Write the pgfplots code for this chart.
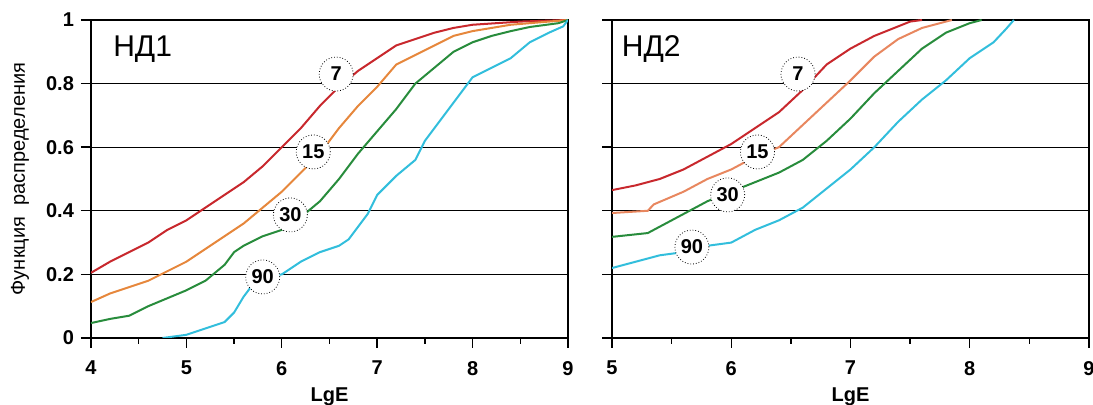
\documentclass[border=0pt]{standalone}
\usepackage{fontspec}
\setmainfont{Liberation Sans}
\usepackage{pgfplots}
\pgfplotsset{compat=1.18}
\definecolor{cred}{RGB}{200,40,45}
\definecolor{corange}{RGB}{230,135,60}
\definecolor{corange2}{RGB}{232,135,95}
\definecolor{cgreen}{RGB}{40,140,60}
\definecolor{ccyan}{RGB}{50,190,220}
\tikzset{lab/.style={circle, draw, densely dotted, fill=white, inner sep=0.5pt, minimum size=17pt, font=\bfseries\fontsize{10}{11}\selectfont}}
\pgfplotsset{
  myaxis/.style={
    scale only axis, width=238.5pt, height=159pt,
    ymin=0, ymax=1, ytick={0,0.2,0.4,0.6,0.8,1},
    ymajorgrids, grid style={black, line width=0.5pt},
    axis line style={line width=0.8pt},
    tick align=outside, major tick length=5pt, minor tick length=3pt,
    tick style={black, line width=0.7pt},
    minor x tick num=1,
    xtick pos=bottom, ytick pos=left,
    /pgf/number format/assume math mode=true,
    ticklabel style={font=\bfseries\fontsize{10}{11}\selectfont},
    xticklabel style={yshift=-3pt},
    xlabel={LgE},
    xlabel style={font=\bfseries\fontsize{10}{11}\selectfont, at={(axis description cs:0.5,-0.185)}, anchor=center},
    every axis plot/.append style={line width=1pt},
  },
}
\begin{document}
\begin{tikzpicture}
\useasboundingbox (-45.5pt,-33.5pt) rectangle (501pt,169pt);
\begin{axis}[myaxis, xmin=4, xmax=9, xtick={4,5,6,7,8,9},
  ylabel={Функция\ \ распределения},
  ylabel style={font=\fontsize{10}{11}\selectfont, at={(axis description cs:-0.149,0.5)}, anchor=center}]
\addplot[cred] coordinates {(4.0,0.205)(4.2,0.24)(4.4,0.27)(4.6,0.30)(4.8,0.34)(5.0,0.37)(5.2,0.41)(5.4,0.45)(5.6,0.49)(5.8,0.54)(6.0,0.60)(6.2,0.66)(6.4,0.73)(6.6,0.79)(6.8,0.84)(7.0,0.88)(7.2,0.92)(7.4,0.94)(7.6,0.96)(7.8,0.975)(8.0,0.985)(8.5,0.995)(9.0,1.0)};
\addplot[corange] coordinates {(4.0,0.113)(4.2,0.14)(4.4,0.16)(4.6,0.18)(4.8,0.21)(5.0,0.24)(5.2,0.28)(5.4,0.32)(5.6,0.36)(5.8,0.41)(6.0,0.46)(6.2,0.52)(6.4,0.58)(6.6,0.66)(6.8,0.73)(7.0,0.79)(7.2,0.86)(7.4,0.89)(7.6,0.92)(7.8,0.95)(8.0,0.965)(8.4,0.985)(8.8,0.995)(9.0,1.0)};
\addplot[cgreen] coordinates {(4.0,0.047)(4.2,0.06)(4.4,0.07)(4.6,0.10)(4.8,0.125)(5.0,0.15)(5.2,0.18)(5.4,0.23)(5.5,0.27)(5.6,0.29)(5.8,0.32)(6.0,0.34)(6.2,0.38)(6.4,0.43)(6.6,0.50)(6.8,0.58)(7.0,0.65)(7.2,0.72)(7.4,0.80)(7.6,0.85)(7.8,0.90)(8.0,0.93)(8.2,0.95)(8.4,0.965)(8.6,0.978)(8.9,0.99)(9.0,1.0)};
\addplot[ccyan] coordinates {(4.75,0.0)(5.0,0.01)(5.2,0.03)(5.4,0.05)(5.5,0.08)(5.6,0.13)(5.7,0.17)(5.8,0.19)(6.0,0.20)(6.2,0.24)(6.4,0.27)(6.6,0.29)(6.7,0.31)(6.8,0.35)(6.9,0.39)(7.0,0.45)(7.2,0.51)(7.4,0.56)(7.5,0.62)(7.6,0.66)(7.8,0.74)(8.0,0.82)(8.2,0.85)(8.4,0.88)(8.6,0.93)(8.8,0.96)(8.95,0.98)(9.0,1.0)};
\node[lab] at (axis cs:6.57,0.83) {7};
\node[lab] at (axis cs:6.33,0.585) {15};
\node[lab] at (axis cs:6.09,0.387) {30};
\node[lab] at (axis cs:5.80,0.192) {90};
\node[anchor=west, inner sep=0pt, font=\fontsize{15}{16}\selectfont] at (axis cs:4.23,0.909) {НД1};
\end{axis}
\begin{axis}[myaxis, xshift=260.5pt, xmin=5, xmax=9, xtick={5,6,7,8,9}, yticklabels={}]
\addplot[cred] coordinates {(5.0,0.465)(5.2,0.48)(5.4,0.50)(5.6,0.53)(5.8,0.57)(6.0,0.61)(6.2,0.66)(6.4,0.71)(6.6,0.78)(6.8,0.86)(7.0,0.91)(7.2,0.95)(7.4,0.98)(7.5,0.995)(7.6,1.0)};
\addplot[corange2] coordinates {(5.0,0.393)(5.3,0.40)(5.35,0.42)(5.6,0.46)(5.8,0.50)(6.0,0.53)(6.2,0.57)(6.4,0.60)(6.6,0.67)(6.8,0.74)(7.0,0.81)(7.2,0.885)(7.4,0.94)(7.6,0.975)(7.85,1.0)};
\addplot[cgreen] coordinates {(5.0,0.318)(5.3,0.33)(5.4,0.35)(5.6,0.39)(5.8,0.43)(6.0,0.46)(6.2,0.49)(6.4,0.52)(6.6,0.56)(6.8,0.62)(7.0,0.69)(7.2,0.77)(7.4,0.84)(7.6,0.91)(7.8,0.96)(8.0,0.99)(8.1,1.0)};
\addplot[ccyan] coordinates {(5.0,0.22)(5.2,0.24)(5.4,0.26)(5.6,0.27)(5.8,0.29)(6.0,0.30)(6.2,0.34)(6.4,0.37)(6.6,0.41)(6.8,0.47)(7.0,0.53)(7.2,0.60)(7.4,0.68)(7.6,0.75)(7.8,0.81)(8.0,0.88)(8.2,0.93)(8.3,0.97)(8.37,1.0)};
\node[lab] at (axis cs:6.56,0.83) {7};
\node[lab] at (axis cs:6.22,0.585) {15};
\node[lab] at (axis cs:5.97,0.45) {30};
\node[lab] at (axis cs:5.67,0.286) {90};
\node[anchor=west, inner sep=0pt, font=\fontsize{15}{16}\selectfont] at (axis cs:5.08,0.909) {НД2};
\end{axis}
\end{tikzpicture}
\end{document}
